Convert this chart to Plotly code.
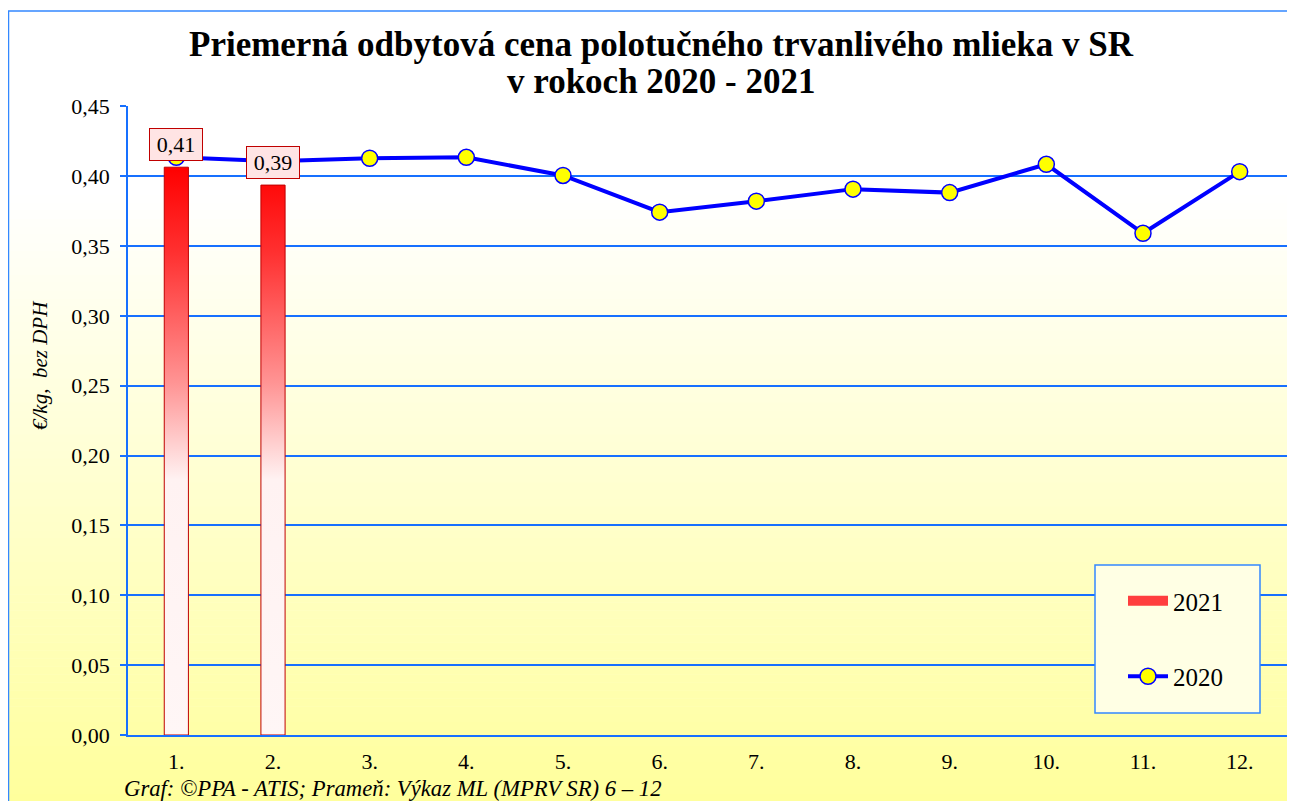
import plotly.graph_objects as go

# ---------------- data ----------------
months = [1, 2, 3, 4, 5, 6, 7, 8, 9, 10, 11, 12]
month_labels = ["1.", "2.", "3.", "4.", "5.", "6.", "7.", "8.", "9.", "10.", "11.", "12."]
values_2020 = [0.4135, 0.4107, 0.4128, 0.4135, 0.4005, 0.3742, 0.3821, 0.3907, 0.3882, 0.4085, 0.3591, 0.4032]
months_2021 = [1, 2]
values_2021 = [0.4064, 0.3936]
y_ticks = [0, 0.05, 0.10, 0.15, 0.20, 0.25, 0.30, 0.35, 0.40, 0.45]

# ---------------- geometry helpers (page pixels -> paper fractions) ----------------
OFF = 8                     # default body margin of the html page
W, H = 1287, 793
ML, MR, MT, MB = 120, 7, 98, 66
PW, PH = W - ML - MR, H - MT - MB


def px2x(px):
    return (px - OFF - ML) / PW


def py2y(py):
    return (H - MB - (py - OFF)) / PH


FONT = "Liberation Serif, Times New Roman, serif"
BLUE_GRID = "#1770FF"
BAR_SCALE = [[0, "#FFF6F6"], [0.45, "#FFF2F2"], [0.62, "#FF9494"], [0.85, "#FF3030"], [1, "#FF0000"]]

fig = go.Figure()

# bars for 2021 drawn as gradient-filled polygons on the numeric axis
bw = 0.125
bx, by = [], []
for m, v in zip(months_2021, values_2021):
    bx += [m - bw, m + bw, m + bw, m - bw, m - bw, None]
    by += [0, 0, v, v, 0, None]
fig.add_trace(go.Scatter(
    x=bx, y=by, mode="lines", fill="toself", name="2021",
    line=dict(color="#C00000", width=1),
    fillgradient=dict(type="vertical", colorscale=BAR_SCALE),
    legendgroup="a", showlegend=False, hoverinfo="skip"))
# legend entry for 2021 (no visible data) - a wide red swatch
fig.add_trace(go.Scatter(
    x=[None], y=[None], name="2021", mode="lines",
    line=dict(color="#FF3E3E", width=10),
    legendgroup="a", showlegend=True))

fig.add_trace(go.Scatter(
    x=months, y=values_2020, mode="lines+markers", name="2020",
    line=dict(color="#0000FF", width=4),
    marker=dict(size=16, color="#FFFF00", line=dict(color="#0000FF", width=1.5)),
    legendgroup="b"))

shapes = []
# background gradient (white at top -> light yellow at bottom)
top, bot = 11, 810
n = 100
for i in range(n):
    y0 = top + (bot - top) * i / n
    y1 = top + (bot - top) * (i + 1) / n
    ym = (y0 + y1) / 2
    f = min(max((ym - 195) / (801 - 195), 0), 1)
    b = round(255 - f * (255 - 156))
    col = f"rgb(255,255,{b})"
    shapes.append(dict(type="rect", xref="paper", yref="paper",
                       x0=px2x(8), x1=px2x(1290), y0=py2y(y1 + 0.6), y1=py2y(y0),
                       fillcolor=col, line=dict(width=0), layer="below"))
# outer border
shapes.append(dict(type="rect", xref="paper", yref="paper",
                   x0=px2x(8.5), x1=px2x(1290), y0=py2y(812), y1=py2y(11),
                   fillcolor="rgba(0,0,0,0)", line=dict(color="#3388FF", width=1.5), layer="below"))
# legend box
shapes.append(dict(type="rect", xref="paper", yref="paper",
                   x0=px2x(1095), x1=px2x(1260), y0=py2y(713), y1=py2y(565),
                   fillcolor="#FFFFE4", line=dict(color="#3388FF", width=1.5), layer="above"))

annotations = []
for m, v in zip(months_2021, values_2021):
    annotations.append(dict(
        x=m, y=v, xref="x", yref="y", text=f"{v:.2f}".replace(".", ","),
        showarrow=False, xanchor="center", yanchor="bottom", yshift=6,
        font=dict(family=FONT, size=22, color="black"),
        bgcolor="#FFE4E4", bordercolor="#C00000", borderwidth=1, borderpad=3,
        width=46))
# title second line
annotations.append(dict(
    x=px2x(661), y=py2y(81), xref="paper", yref="paper", xanchor="center", yanchor="middle",
    text="v rokoch 2020 - 2021", showarrow=False,
    font=dict(family=FONT, size=35, color="black", weight="bold")))
# y-axis title
annotations.append(dict(
    x=px2x(40), y=py2y(365), xref="paper", yref="paper", xanchor="center", yanchor="middle",
    text="€/kg,\u00a0 bez DPH", textangle=-90, showarrow=False,
    font=dict(family=FONT, size=21, color="black", style="italic")))
# source note
annotations.append(dict(
    x=px2x(122), y=py2y(788), xref="paper", yref="paper", xanchor="left", yanchor="middle",
    text="Graf: ©PPA - ATIS; Prameň: Výkaz ML (MPRV SR) 6 – 12", showarrow=False,
    font=dict(family=FONT, size=22.7, color="black", style="italic")))

fig.update_layout(
    width=W, height=H,
    margin=dict(l=ML, r=MR, t=MT, b=MB, pad=0),
    paper_bgcolor="white", plot_bgcolor="rgba(0,0,0,0)",
    separators=", ",
    title=dict(text="Priemerná odbytová cena polotučného trvanlivého mlieka v SR",
               x=(661 - OFF) / W, xanchor="center", y=1 - (44 - OFF) / H, yanchor="middle",
               yref="container", xref="container",
               font=dict(family=FONT, size=35, color="black", weight="bold")),
    xaxis=dict(range=[0.5, 12.5], tickmode="array", tickvals=months, ticktext=month_labels,
               showgrid=False, zeroline=False, showline=True, linecolor=BLUE_GRID, linewidth=1.5,
               ticks="", ticklabelstandoff=6,
               tickfont=dict(family=FONT, size=22, color="black")),
    yaxis=dict(range=[0, 0.4502], tickmode="array", tickvals=y_ticks, tickformat=".2f",
               showgrid=True, gridcolor=BLUE_GRID, gridwidth=1.5, zeroline=False,
               showline=True, linecolor=BLUE_GRID, linewidth=1.5,
               ticks="outside", ticklen=6, tickcolor=BLUE_GRID, tickwidth=1.5,
               ticklabelstandoff=6,
               tickfont=dict(family=FONT, size=22, color="black")),
    legend=dict(x=px2x(1123), y=py2y(578), xanchor="left", yanchor="top",
                bgcolor="rgba(0,0,0,0)", borderwidth=0,
                traceorder="grouped", tracegroupgap=40, itemwidth=40,
                font=dict(family=FONT, size=25, color="black")),
    shapes=shapes, annotations=annotations,
    hovermode=False,
)

fig.write_html("out.html")
